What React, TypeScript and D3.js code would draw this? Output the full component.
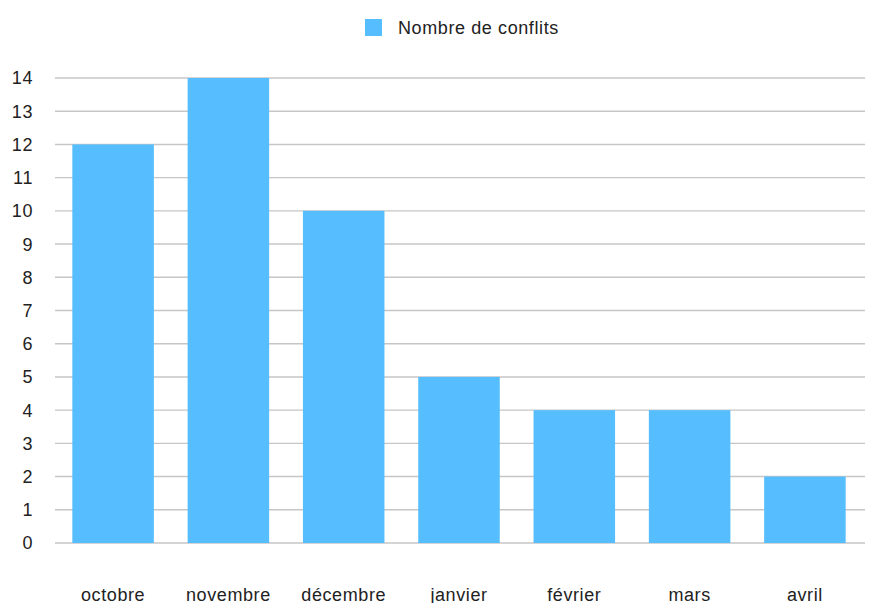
import { useEffect, useRef } from 'react'
import * as d3 from 'd3'

const months = ['octobre', 'novembre', 'décembre', 'janvier', 'février', 'mars', 'avril']
const conflicts = [12, 14, 10, 5, 4, 4, 2]
const yTicks = [0, 1, 2, 3, 4, 5, 6, 7, 8, 9, 10, 11, 12, 13, 14]
const seriesName = 'Nombre de conflits'

const WIDTH = 883
const HEIGHT = 603
const FONT = '"Liberation Sans", Arial, Helvetica, sans-serif'

export default function App() {
  const svgRef = useRef<SVGSVGElement>(null)

  useEffect(() => {
    if (!svgRef.current) return
    const svg = d3.select(svgRef.current)
    svg.selectAll('*').remove()

    const margin = { top: 78, right: 18, bottom: 60, left: 55 }
    const x0 = margin.left
    const x1 = WIDTH - margin.right
    const yBottom = HEIGHT - margin.bottom

    const x = d3.scaleBand<string>()
      .domain(months)
      .range([x0 - 1, x1 - 1])
      .paddingInner(0.293)
      .paddingOuter(0.159)

    const y = d3.scaleLinear()
      .domain([0, 14])
      .range([yBottom, margin.top])

    // gridlines
    svg.append('g')
      .selectAll('line')
      .data(yTicks)
      .join('line')
      .attr('x1', x0)
      .attr('x2', x1)
      .attr('y1', d => y(d))
      .attr('y2', d => y(d))
      .attr('stroke', '#c6c6c6')
      .attr('stroke-width', 1.4)

    const textStyle = (sel: any) => sel
      .style('font-family', FONT)
      .style('font-size', '18px')
      .style('letter-spacing', '0.6px')
      .style('fill', '#222')

    // y labels
    svg.append('g')
      .selectAll('text')
      .data(yTicks)
      .join('text')
      .attr('x', 33)
      .attr('y', d => y(d))
      .attr('dy', '0.36em')
      .attr('text-anchor', 'end')
      .call(textStyle)
      .text(d => d.toString())

    // bars
    svg.append('g')
      .selectAll('rect')
      .data(conflicts)
      .join('rect')
      .attr('x', (_, i) => x(months[i])!)
      .attr('y', d => y(d))
      .attr('width', x.bandwidth())
      .attr('height', d => yBottom - y(d))
      .attr('fill', '#56befe')

    // x labels
    svg.append('g')
      .selectAll('text')
      .data(months)
      .join('text')
      .attr('x', d => x(d)! + x.bandwidth() / 2)
      .attr('y', 601)
      .attr('text-anchor', 'middle')
      .call(textStyle)
      .text(d => d)

    // legend
    const legend = svg.append('g')
    legend.append('rect')
      .attr('x', 365)
      .attr('y', 19)
      .attr('width', 17)
      .attr('height', 17)
      .attr('fill', '#56befe')
    legend.append('text')
      .attr('x', 398)
      .attr('y', 34)
      .call(textStyle)
      .text(seriesName)
  }, [])

  return (
    <div style={{ position: 'absolute', left: 0, top: 0, background: '#fff' }}>
      <svg ref={svgRef} width={WIDTH} height={HEIGHT} style={{ display: 'block' }} />
    </div>
  )
}
